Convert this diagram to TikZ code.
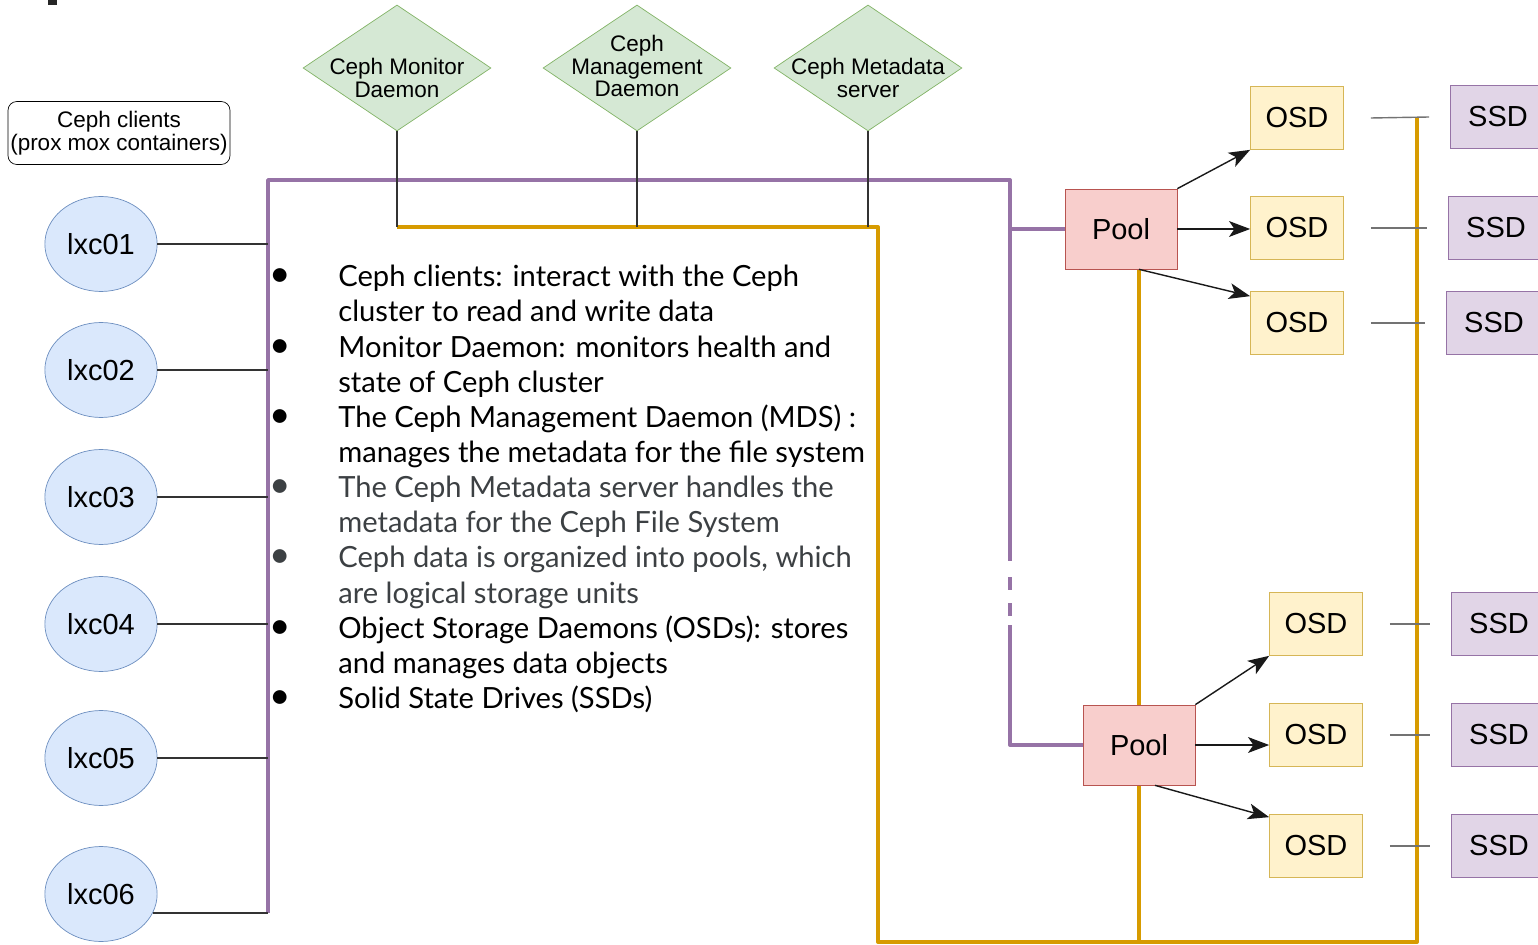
\documentclass[tikz,border=0pt]{standalone}
\usepackage{fontspec}
\setmainfont{Liberation Sans}
\newfontfamily\notesfont{Lato}
\usetikzlibrary{shapes.geometric,arrows.meta,calc,backgrounds}
\definecolor{busline}{HTML}{9673A6}
\definecolor{dataline}{HTML}{D79B00}
\definecolor{lxcfill}{HTML}{DAE8FC}
\definecolor{lxcline}{HTML}{6C8EBF}
\definecolor{dmfill}{HTML}{D5E8D4}
\definecolor{dmline}{HTML}{82B366}
\definecolor{poolfill}{HTML}{F8CECC}
\definecolor{poolline}{HTML}{B85450}
\definecolor{osdfill}{HTML}{FFF2CC}
\definecolor{osdline}{HTML}{D6B656}
\definecolor{ssdfill}{HTML}{E1D5E7}
\definecolor{ssdline}{HTML}{9673A6}
\definecolor{notegrey}{HTML}{3C4043}
\newcommand\notebullet{\makebox[1.32cm][l]{\hspace{-0.06cm}{\fontsize{21}{20}\selectfont\textbullet}}}
\newcommand\noteindent{\makebox[1.32cm]{}}
\begin{document}
\begin{tikzpicture}[x=0.02cm, y=-0.02cm, >={Stealth[length=12pt,width=9pt,inset=3pt]},
    lxc/.style={ellipse, draw=lxcline, fill=lxcfill, minimum width=2.24cm, minimum height=1.9cm, font=\fontsize{16.5}{18}\selectfont},
    daemon/.style={diamond, draw=dmline, fill=dmfill, minimum width=3.76cm, minimum height=2.52cm, inner sep=0pt},
    dmtext/.style={align=center, inner sep=0pt, font=\fontsize{12.8}{12.6}\selectfont},
    pool/.style={draw=poolline, fill=poolfill, minimum width=2.24cm, minimum height=1.6cm, font=\fontsize{16.5}{18}\selectfont},
    osd/.style={draw=osdline, fill=osdfill, minimum width=1.86cm, minimum height=1.26cm, font=\fontsize{16.5}{18}\selectfont},
    ssd/.style={draw=ssdline, fill=ssdfill, minimum width=1.9cm, minimum height=1.26cm, font=\fontsize{16.5}{18}\selectfont},
    notes/.style={align=left, inner sep=0pt, font=\notesfont\fontsize{16.6}{20}\selectfont},
    purp/.style={draw=busline, line width=2.2pt, line join=round},
    gold/.style={draw=dataline, line width=2.2pt, line join=round},
    wire/.style={draw=black!80, line width=0.8pt},
    stub/.style={draw=black!55, line width=0.8pt},
    feed/.style={->, draw=black!90, line width=0.8pt}]
\clip (0,0) rectangle (1538,945);
\fill[black!85] (48,0) rectangle (57,5);

% clients
\node[draw, rounded corners=5pt, inner sep=0.5pt, minimum width=4.44cm, minimum height=1.26cm, align=center, font=\fontsize{12.8}{13}\selectfont] (clients) at (119,133) {Ceph clients\\(prox mox containers)};
\node[lxc] (lxc1) at (101,244) {lxc01};
\node[lxc] (lxc2) at (101,370) {lxc02};
\node[lxc] (lxc3) at (101,497) {lxc03};
\node[lxc] (lxc4) at (101,624) {lxc04};
\node[lxc] (lxc5) at (101,758) {lxc05};
\node[lxc] (lxc6) at (101,894) {lxc06};

% daemons
\node[daemon] (mon) at (397,68) {};
\node[daemon] (mgr) at (637,68) {};
\node[daemon] (mds) at (868,68) {};
\node[dmtext] (montext) at ($(mon)+(0,10)$) {Ceph Monitor\\Daemon};
\node[dmtext] (mgrtext) at ($(mgr)+(0,-2)$) {Ceph\\Management\\Daemon};
\node[dmtext] (mdstext) at ($(mds)+(0,10)$) {Ceph Metadata\\server};

% pools, osds, ssds
\node[pool] (pool1) at (1121,229) {Pool};
\node[pool] (pool2) at (1139,745) {Pool};
\node[osd] (osd1) at (1297,118) {OSD};
\node[osd] (osd2) at (1297,228) {OSD};
\node[osd] (osd3) at (1297,323) {OSD};
\node[osd] (osd4) at (1316,624) {OSD};
\node[osd] (osd5) at (1316,735) {OSD};
\node[osd] (osd6) at (1316,846) {OSD};
\node[ssd] (ssd1) at (1498,117) {SSD};
\node[ssd] (ssd2) at (1496,228) {SSD};
\node[ssd] (ssd3) at (1494,323) {SSD};
\node[ssd] (ssd4) at (1499,624) {SSD};
\node[ssd] (ssd5) at (1499,735) {SSD};
\node[ssd] (ssd6) at (1499,846) {SSD};

\coordinate (busL) at (268,180);
\coordinate (busR) at (1010,180);
\coordinate (dataL) at (397,227);
\coordinate (dataM) at (878,227);
\coordinate (dataB) at (878,942);
\coordinate (dataR) at (1417,942);

\begin{pgfonlayer}{background}
  % purple client network
  \draw[purp] (busL |- lxc6.-20) -- (busL) -- (busR) -- ($(busR)+(0,381)$);
  \draw[purp] ($(busR)+(0,397)$) -- ($(busR)+(0,410)$);
  \draw[purp] ($(busR)+(0,423)$) -- ($(busR)+(0,436)$);
  \draw[purp] ($(busR)+(0,445)$) -- (busR |- pool2.west) -- (pool2.west);
  \draw[purp] (busR |- pool1.west) -- (pool1.west);
  % orange cluster network
  \draw[gold] (dataL) -- (dataM) -- (dataB) -- (dataR) -- (dataR |- osd1);
  \draw[gold] (pool1.south -| pool2) -- (pool2.south |- dataR);
\end{pgfonlayer}

\foreach \n in {1,...,5}
  \draw[wire] (lxc\n.east) -- (lxc\n.east -| busL);
\draw[wire] (lxc6.-20) -- (busL |- lxc6.-20);
\foreach \d in {mon,mgr,mds}
  \draw[wire] (\d.south) -- (\d.south |- dataL);

\draw[feed] (pool1.north east) -- (osd1.south west);
\draw[feed] (pool1.east) -- (osd2.west |- pool1.east);
\draw[feed] (pool1.south -| pool2) -- ($(osd3.north west)+(0,5)$);
\draw[feed] (pool2.north east) -- (osd4.south west);
\draw[feed] (pool2.east) -- (osd5.west |- pool2.east);
\draw[feed] ($(pool2.south)+(16,0)$) -- ($(osd6.north west)+(0,3)$);

\foreach \n in {1,...,6}
  \draw[stub] ($(osd\n.east)+(27,0)$) -- ($(ssd\n.west)+(-21,0)$);

% notes
\node[notes, anchor=north west] (notes) at (272,265) {%
\notebullet Ceph clients: interact with the Ceph\\
\noteindent cluster to read and write data\\
\notebullet Monitor Daemon: monitors health and\\
\noteindent state of Ceph cluster\\
\notebullet The Ceph Management Daemon (MDS) :\\
\noteindent manages the metadata for the file system\\
\textcolor{notegrey}{\notebullet The Ceph Metadata server handles the}\\
\textcolor{notegrey}{\noteindent metadata for the Ceph File System}\\
\textcolor{notegrey}{\notebullet Ceph data is organized into pools, which}\\
\textcolor{notegrey}{\noteindent are logical storage units}\\
\notebullet Object Storage Daemons (OSDs): stores\\
\noteindent and manages data objects\\
\notebullet Solid State Drives (SSDs)};
\end{tikzpicture}
\end{document}
